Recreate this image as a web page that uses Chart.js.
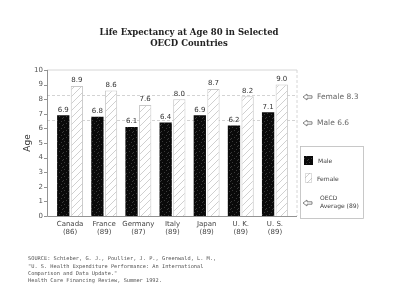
<!DOCTYPE html>
<html><head><meta charset="utf-8">
<script src="https://cdn.jsdelivr.net/npm/chart.js@4/dist/chart.umd.min.js"></script>
<style>html,body{margin:0;padding:0;background:#fff}#wrap{width:400px;height:304px}</style>
</head><body><div id="wrap"><canvas id="c" width="400" height="304"></canvas></div>
<script>
const countries = ['Canada','France','Germany','Italy','Japan','U. K.','U. S.'];
const years = ['(86)','(89)','(87)','(89)','(89)','(89)','(89)'];
const maleValues = [6.9, 6.8, 6.1, 6.4, 6.9, 6.2, 7.1];
const femaleValues = [8.9, 8.6, 7.6, 8.0, 8.7, 8.2, 9.0];
const oecdLabels = ['Female 8.3', 'Male 6.6'];
const oecdValues = [8.3, 6.6];
const yTicks = [0,1,2,3,4,5,6,7,8,9,10];
const titleLines = ['Life Expectancy at Age 80 in Selected', 'OECD Countries'];
const sourceLines = [
  'SOURCE: Schieber, G. J., Poullier, J. P., Greenwald, L. M.,',
  '"U. S. Health Expenditure Performance: An International',
  'Comparison and Data Update."',
  'Health Care Financing Review, Summer 1992.'
];

const ctx0 = document.getElementById('c').getContext('2d');
function hatchPattern(){
  const c=document.createElement('canvas'); c.width=c.height=7;
  const x=c.getContext('2d'); x.fillStyle='#fff'; x.fillRect(0,0,7,7);
  x.strokeStyle='#c4c4c4'; x.lineWidth=0.8; x.beginPath();
  x.moveTo(0,7); x.lineTo(7,0); x.moveTo(-1,1); x.lineTo(1,-1); x.moveTo(6,8); x.lineTo(8,6); x.stroke();
  return ctx0.createPattern(c,'repeat');
}
function speckPattern(){
  const c=document.createElement('canvas'); c.width=c.height=7;
  const x=c.getContext('2d'); x.fillStyle='#0a0a0a'; x.fillRect(0,0,7,7);
  x.fillStyle='#3a3a3a'; [[1,1],[5,2],[3,4],[0,5],[6,6]].forEach(p=>x.fillRect(p[0],p[1],1,1));
  return ctx0.createPattern(c,'repeat');
}
const hatch = hatchPattern(), speck = speckPattern();

function drawArrow(ctx, x, y){
  ctx.save(); ctx.strokeStyle='#666'; ctx.lineWidth=0.8;
  ctx.beginPath();
  ctx.moveTo(x, y); ctx.lineTo(x+4, y-3); ctx.lineTo(x+4, y-1.2); ctx.lineTo(x+9, y-1.2);
  ctx.lineTo(x+9, y+1.2); ctx.lineTo(x+4, y+1.2); ctx.lineTo(x+4, y+3); ctx.closePath();
  ctx.stroke(); ctx.restore();
}

const deco = {
  id:'deco',
  beforeDatasetsDraw(chart){
    const {ctx, scales:{y}} = chart;
    const L=47, R=297, T=y.getPixelForValue(10), B=y.getPixelForValue(0);
    ctx.save();
    ctx.strokeStyle='#ccc'; ctx.lineWidth=0.8;
    ctx.beginPath(); ctx.moveTo(L,T); ctx.lineTo(R,T); ctx.stroke();
    ctx.setLineDash([3,2]);
    ctx.beginPath(); ctx.moveTo(R,T); ctx.lineTo(R,B); ctx.stroke();
    ctx.strokeStyle='#c8c8c8';
    oecdValues.forEach(v=>{const py=Math.round(y.getPixelForValue(v))+0.5;
      ctx.beginPath(); ctx.moveTo(L,py); ctx.lineTo(R,py); ctx.stroke();});
    ctx.setLineDash([]);
    ctx.strokeStyle='#777'; ctx.lineWidth=0.8;
    ctx.beginPath(); ctx.moveTo(L+0.5,T); ctx.lineTo(L+0.5,B+0.5); ctx.lineTo(R,B+0.5); ctx.stroke();
    yTicks.forEach(v=>{const py=Math.round(y.getPixelForValue(v))+0.5;
      ctx.beginPath(); ctx.moveTo(L-3,py); ctx.lineTo(L,py); ctx.stroke();});
    ctx.restore();
  },
  afterDatasetsDraw(chart){
    const {ctx} = chart;
    ctx.save();
    ctx.fillStyle='#333'; ctx.font='7px "DejaVu Sans"'; ctx.textAlign='center'; ctx.textBaseline='bottom';
    chart.data.datasets.forEach((ds,i)=>{
      chart.getDatasetMeta(i).data.forEach((el,j)=>{
        ctx.fillText(ds.data[j].toFixed(1), el.x, el.y-2);
      });
    });
    // title
    ctx.fillStyle='#222'; ctx.font='bold 8.5px "DejaVu Serif"'; ctx.textBaseline='middle';
    ctx.fillText(titleLines[0], 189, 33); ctx.fillText(titleLines[1], 189, 44);
    // y title
    ctx.save(); ctx.translate(28,143); ctx.rotate(-Math.PI/2);
    ctx.font='9px "DejaVu Sans"'; ctx.fillStyle='#333'; ctx.fillText('Age',0,0); ctx.restore();
    // oecd annotations
    ctx.textAlign='left'; ctx.font='7.5px "DejaVu Sans"'; ctx.fillStyle='#666';
    oecdValues.forEach((v,i)=>{
      const py = i===0 ? 97 : 123;
      drawArrow(ctx, 303, py); ctx.fillText(oecdLabels[i], 317, py);
    });
    // legend box
    ctx.strokeStyle='#bbb'; ctx.lineWidth=0.8; ctx.strokeRect(300.5,146.5,63,72);
    ctx.fillStyle=speck; ctx.fillRect(304,156,9,9);
    ctx.fillStyle=hatch; ctx.fillRect(305,173,7,10);
    ctx.setLineDash([1,1]); ctx.strokeStyle='#aaa'; ctx.strokeRect(305.5,173.5,6,9); ctx.setLineDash([]);
    ctx.fillStyle='#444'; ctx.font='6px "DejaVu Sans"';
    ctx.fillText('Male', 318, 161); ctx.fillText('Female', 317, 179);
    drawArrow(ctx, 303, 203);
    ctx.fillText('OECD', 320, 198); ctx.fillText('Average (89)', 320, 206);
    // source
    ctx.font='5.3px "DejaVu Sans Mono"'; ctx.fillStyle='#555';
    sourceLines.forEach((s,i)=>ctx.fillText(s, 28, 259+i*7.3));
    ctx.restore();
  }
};

new Chart(ctx0, {
  type:'bar',
  data:{
    labels: countries.map((c,i)=>[c, years[i]]),
    datasets:[
      {label:'Male', data:maleValues, backgroundColor:speck, borderWidth:0},
      {label:'Female', data:femaleValues, backgroundColor:hatch, borderColor:'#c8c8c8', borderWidth:1}
    ]
  },
  options:{
    responsive:false, animation:false, devicePixelRatio:1,
    layout:{padding:{left:0,right:108,top:70,bottom:64}},
    plugins:{legend:{display:false}, tooltip:{enabled:false}},
    scales:{
      x:{grid:{display:false, drawTicks:false}, border:{display:false},
         categoryPercentage:0.76, barPercentage:1.0,
         ticks:{color:'#444', font:{size:7, family:'DejaVu Sans'}, padding:4, maxRotation:0, autoSkip:false},
         afterFit(s){s.height=24;}},
      y:{min:0, max:10, grid:{display:false, drawTicks:false}, border:{display:false},
         ticks:{stepSize:1, color:'#555', font:{size:7, family:'DejaVu Sans'}, padding:10},
         afterFit(s){s.width=53;}}
    }
  },
  plugins:[deco]
});
</script></body></html>
